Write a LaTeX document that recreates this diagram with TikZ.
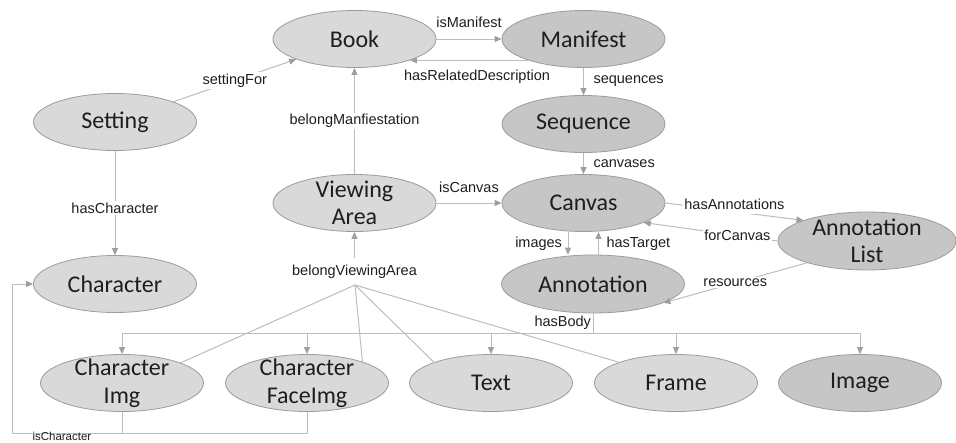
\documentclass[tikz,border=0pt]{standalone}
\usepackage{fontspec}
\setmainfont{Carlito}
\newfontfamily\lblfont{Liberation Sans}
\usetikzlibrary{shapes.geometric,arrows.meta,calc}
\definecolor{lightfill}{HTML}{D9D9D9}
\definecolor{darkfill}{HTML}{C6C6C6}
\definecolor{bordergray}{HTML}{9C9C9C}
\definecolor{linegray}{HTML}{BDBDBD}
\definecolor{tipgray}{HTML}{9E9E9E}
\definecolor{txt}{HTML}{1E1E1E}
\begin{document}
\begin{tikzpicture}[x=1pt,y=-1pt,
 ent/.style={ellipse, draw=bordergray, line width=0.8pt, minimum width=163pt, minimum height=57pt, inner sep=0pt, align=center, font=\fontsize{24}{27.5}\selectfont, text=txt},
 twoline/.style={inner ysep=-10pt},
 lightent/.style={ent, fill=lightfill},
 darkent/.style={ent, fill=darkfill},
 rel/.style={draw=linegray, line width=1pt},
 arr/.style={rel, -{Triangle[width=6pt,length=7pt,color=tipgray]}},
 lbl/.style={font=\lblfont\fontsize{14.5}{16}\selectfont, text=txt, inner sep=1.5pt},
 onlbl/.style={lbl, fill=white},
]
\fill[white] (0,0) rectangle (956,442);
\useasboundingbox (0,0) rectangle (956,442);

% nodes
\node[lightent] (Book) at (354.5,39) {Book};
\node[darkent] (Manifest) at (583.5,39) {Manifest};
\node[lightent] (Setting) at (115,122) {Setting};
\node[darkent] (Sequence) at (583.5,124) {Sequence};
\node[lightent, twoline] (ViewingArea) at (354.5,203) {Viewing\\Area};
\node[darkent] (Canvas) at (583.5,203) {Canvas};
\node[darkent, twoline, minimum width=178pt, minimum height=58pt] (AnnList) at (867,241) {Annotation\\List};
\node[darkent, minimum width=183pt, minimum height=58pt] (Annotation) at (593,284) {Annotation};
\node[lightent] (Character) at (115,284) {Character};
\node[lightent, twoline] (CharImg) at (122,383) {Character\\Img};
\node[lightent, twoline] (FaceImg) at (307,383) {Character\\FaceImg};
\node[lightent] (Text) at (491,383) {Text};
\node[lightent] (Frame) at (676,383) {Frame};
\node[darkent] (Image) at (860,383) {Image};

% top relations
\draw[arr] (Book.east) -- node[lbl, above=9pt] {isManifest} (Manifest.west);
\draw[arr] (Manifest.-159) -- node[lbl, below=8pt, xshift=8pt] {hasRelatedDescription} (Book.-21);
\draw[arr] (Manifest.south) -- node[lbl, right=8pt] {sequences} (Sequence.north);
\draw[arr] (Sequence.south) -- node[lbl, right=8pt] {canvases} (Canvas.north);
\draw[arr] (Setting) -- node[onlbl] {settingFor} (Book);
\draw[arr] (Setting.south) -- node[onlbl, pos=0.55] {hasCharacter} (Character.north);
\draw[arr] (ViewingArea) -- node[onlbl] {belongManfiestation} (Book);
\draw[arr] (ViewingArea.east) -- node[lbl, above=8pt] {isCanvas} (Canvas.west);

% canvas / annotation relations
\draw[arr] (Canvas.east) -- node[onlbl, yshift=7pt, inner ysep=4pt] {hasAnnotations} (AnnList.162.7);
\draw[arr] (AnnList.west) -- node[onlbl, pos=0.3] {forCanvas} (Canvas.-18.6);
\draw[arr] (AnnList.-160.8) -- node[onlbl] {resources} (Annotation.-15.4);
\draw[arr] ([xshift=-15.5pt]Canvas.south) -- node[lbl, left=4pt] {images} ([xshift=-15.5pt]Canvas.south |- Annotation.north);
\draw[arr] ([xshift=15pt]Canvas.south |- Annotation.north) -- node[lbl, right=6pt] {hasTarget} ([xshift=15pt]Canvas.south);

% hasBody
\coordinate (hb) at (593,333);
\draw[rel] (Annotation.south) -- node[lbl, left=0pt] {hasBody} (hb);
\draw[rel] (CharImg.north |- hb) -- (Image.north |- hb);
\foreach \n in {CharImg,FaceImg,Text,Frame,Image}
  \draw[arr] (\n.north |- hb) -- (\n.north);

% belongViewingArea
\coordinate (bva) at (355,285);
\node[lbl] (bvl) at (354.5,271.5) {belongViewingArea};
\draw[arr, shorten <=5pt] (bvl.north) -- (ViewingArea.south);
\draw[rel] (CharImg.19) -- (bva);
\draw[rel] (FaceImg.21) -- (bva);
\draw[rel] (Text.160) -- (bva);
\draw[rel] (Frame.160) -- (bva);

% isCharacter
\coordinate (ic) at (12,433);
\draw[rel] (CharImg.south) -- (CharImg.south |- ic);
\draw[arr] (FaceImg.south) |- (ic) node[lbl, font=\lblfont\fontsize{11.5}{13}\selectfont, anchor=base west, inner sep=0pt, xshift=20pt, yshift=-7.6pt] {isCharacter} |- (Character.west);
\end{tikzpicture}
\end{document}
